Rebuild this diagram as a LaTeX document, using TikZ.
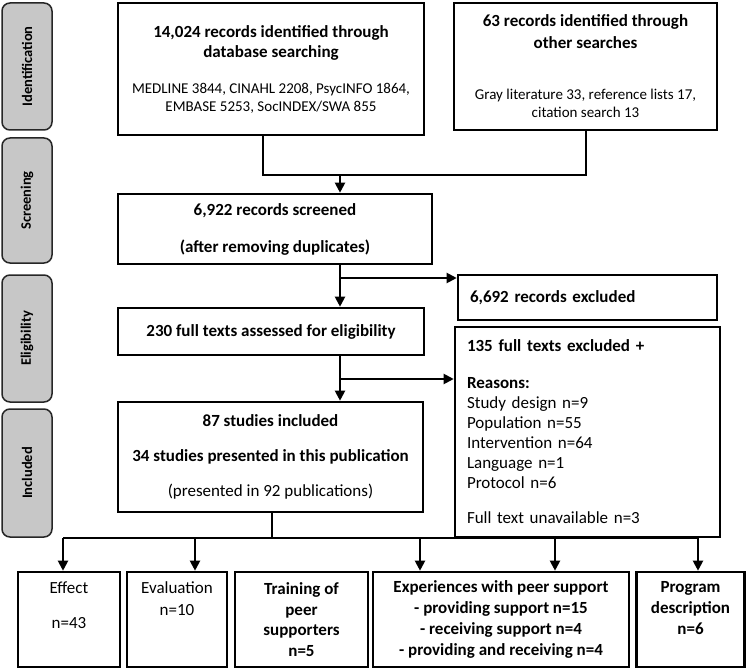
\documentclass[tikz,border=0pt]{standalone}
\usepackage{fontspec}
\setmainfont{Carlito}
\usepackage{tikz}
\usetikzlibrary{arrows.meta}

\newcommand{\smalltxt}[1]{{\fontsize{15}{18}\selectfont #1}}

\tikzset{
	box/.style = {draw, line width=2.6pt, inner sep=0pt, align=center, font=\fontsize{17}{20}\selectfont},
	leftbox/.style = {box, align=left, inner xsep=12pt},
	stagebox/.style = {draw=black!85, line width=1.5pt, fill=black!22, rounded corners=8pt, rotate=90, minimum height=50pt, inner sep=0pt, font=\fontsize{14.5}{17}\selectfont\bfseries},
	txt/.style = {inner sep=0pt, align=center, anchor=north, font=\fontsize{17}{21}\selectfont},
}

\begin{document}
\begin{tikzpicture}[x=1pt, y=-1pt, line width=2pt, >={Triangle[length=10pt,width=10pt]}]
	\useasboundingbox (0,0) rectangle (747,671);
	%stage labels
	\node[stagebox, minimum width=127pt] (stIdent) at (27,66.5) {Identification};
	\node[stagebox, minimum width=125pt] (stScreen) at (27,200.5) {Screening};
	\node[stagebox, minimum width=127pt] (stElig) at (27,338.5) {Eligibility};
	\node[stagebox, minimum width=128pt] (stIncl) at (27,473) {Included};
	%identification
	\node[box, minimum width=306pt, minimum height=132pt] (ident) at (271,69) {\textbf{14,024 records identified through}\\\textbf{database searching}\\[16pt]\smalltxt{MEDLINE 3844, CINAHL 2208, PsycINFO 1864,}\\[-2pt]\smalltxt{EMBASE 5253, SocINDEX/SWA 855}};
	\node[box, minimum width=263pt, minimum height=127pt] (other) at (585.5,66.5) {\textbf{63 records identified through}\\[2pt]\textbf{other searches}\\[31pt]\smalltxt{Gray literature 33, reference lists 17,}\\[-2pt]\smalltxt{citation search 13}};
	%screening and eligibility
	\node[box, minimum width=314pt, minimum height=70pt] (screened) at (275,229) {\textbf{6,922 records screened}\\[17pt]\textbf{(after removing duplicates)}};
	\node[leftbox, text width=235pt, minimum height=45pt] (excl1) at (587.5,297.5) {\textbf{6,692 records excluded}};
	\node[box, minimum width=306pt, minimum height=47pt] (assessed) at (271,331.5) {\textbf{230 full texts assessed for eligibility}};
	\node[leftbox, text width=241pt, minimum height=210pt] (excl2) at (587.5,432) {\textbf{135 full texts excluded +}\\[17pt]\textbf{Reasons:}\\Study design n=9\\Population n=55\\Intervention n=64\\Language n=1\\Protocol n=6\\[15pt]Full text unavailable n=3};
	%included
	\node[box, minimum width=305pt, minimum height=110pt] (incl) at (270.5,457) {\textbf{87 studies included}\\[15pt]\textbf{34 studies presented in this publication}\\[15pt](presented in 92 publications)};
	%outcome boxes
	\node[box, minimum width=102pt, minimum height=95pt] (effect) at (69,619.5) {};
	\node[box, minimum width=100pt, minimum height=95pt] (eval) at (177,619.5) {};
	\node[box, minimum width=133pt, minimum height=95pt, font=\fontsize{17}{20.5}\selectfont\bfseries] (train) at (301.5,619.5) {Training of\\peer\\supporters\\n=5};
	\node[box, minimum width=256pt, minimum height=95pt, font=\fontsize{17}{21}\selectfont\bfseries] (exper) at (501,619.5) {Experiences with peer support\\- providing support n=15\\- receiving support n=4\\- providing and receiving n=4};
	\node[box, minimum width=108pt, minimum height=95pt] (prog) at (690.5,619.5) {};
	\node[txt] (effectTxt) at ([yshift=-10pt]effect.north) {Effect\\[14pt]n=43};
	\node[txt] (evalTxt) at ([yshift=-10pt]eval.north) {Evaluation\\[1pt]n=10};
	\node[txt, font=\fontsize{17}{21}\selectfont\bfseries] (progTxt) at ([yshift=-10pt]prog.north) {Program\\description\\n=6};
	%merge of the two searches
	\coordinate (merge) at (340,175);
	\draw ([xshift=-8pt]ident.south) |- (other.south |- merge) -- (other.south);
	\draw[->] (merge) -- (merge |- screened.north);
	\draw[->] (merge |- screened.south) -- (merge |- assessed.north);
	\draw[->] (merge |- assessed.south) -- (merge |- incl.north);
	%exclusions
	\coordinate (split1) at (340,278);
	\coordinate (split2) at (340,379);
	\draw[->] (split1) -- (split1 -| excl1.west);
	\draw[->] (split2) -- (split2 -| excl2.west);
	%split into outcome groups
	\coordinate (busL) at (63,538);
	\coordinate (busR) at (698,538);
	\draw ([xshift=1.5pt]incl.south) -- ([xshift=1.5pt]incl.south |- busL);
	\draw (busL) -- (busR);
	\foreach \x/\t in {63/effect, 195/eval, 420/exper, 555/exper, 698/prog}
		\draw[->] (\x,538) -- (\t.north -| \x,538);
\end{tikzpicture}
\end{document}
